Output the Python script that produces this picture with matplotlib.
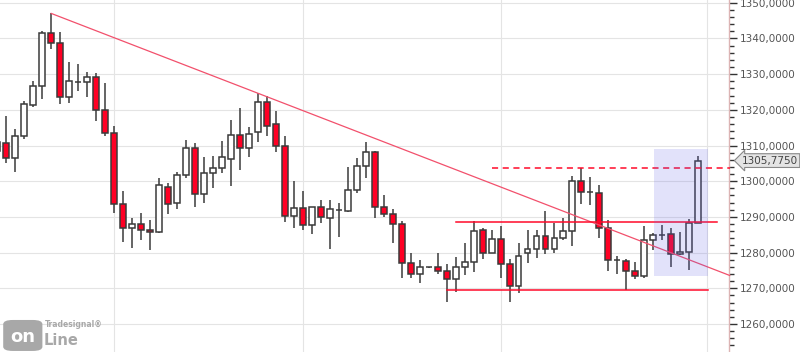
#%% Imports
import numpy as np
import matplotlib
matplotlib.use('Agg')
import matplotlib.pyplot as plt
from matplotlib.patches import Rectangle, FancyBboxPatch
from matplotlib.ticker import MultipleLocator, FuncFormatter

#%% Daily OHLC data, first bar is only partly visible
bar_idx = np.arange(-1, 78)
opens  = [1308.4, 1310.8, 1306.4, 1312.6, 1321.4, 1326.6, 1341.4, 1338.6, 1323.5, 1327.9,
          1327.7, 1329.1, 1319.9, 1313.4, 1293.5, 1286.8, 1287.9, 1286.2, 1285.7, 1298.3,
          1293.8, 1301.7, 1309.2, 1296.3, 1302.2, 1303.6, 1306.1, 1312.9, 1309.4, 1313.7,
          1322.1, 1315.9, 1309.8, 1290.3, 1292.4, 1287.6, 1292.7, 1289.6, 1292.0, 1291.7,
          1297.4, 1304.2, 1308.1, 1292.7, 1290.7, 1287.9, 1277.0, 1273.9, 1275.9, 1275.9,
          1274.8, 1272.5, 1275.9, 1277.3, 1286.2, 1279.8, 1283.7, 1276.7, 1270.6, 1279.8,
          1280.9, 1284.6, 1280.9, 1284.0, 1286.0, 1300.0, 1297.0, 1296.6, 1286.8, 1277.9,
          1277.7, 1274.8, 1273.4, 1283.5, 1284.9, 1285.1, 1279.5, 1280.1, 1288.2]
highs  = [1312.0, 1318.3, 1314.5, 1322.4, 1328.1, 1342.0, 1347.0, 1341.7, 1333.4, 1332.8,
          1330.6, 1330.2, 1327.5, 1315.5, 1297.3, 1289.6, 1291.0, 1289.1, 1300.8, 1299.4,
          1302.5, 1311.5, 1310.6, 1306.7, 1307.1, 1311.3, 1317.1, 1320.4, 1315.1, 1324.6,
          1323.9, 1319.7, 1312.7, 1300.1, 1297.3, 1292.7, 1294.7, 1294.7, 1294.0, 1303.9,
          1306.4, 1310.9, 1308.5, 1296.1, 1292.1, 1288.9, 1280.0, 1277.9, 1276.1, 1280.0,
          1276.8, 1278.9, 1282.7, 1288.9, 1286.8, 1286.3, 1287.5, 1278.1, 1282.7, 1286.2,
          1286.2, 1291.7, 1288.4, 1289.6, 1301.5, 1303.7, 1301.2, 1298.9, 1289.1, 1279.0,
          1278.3, 1277.5, 1287.5, 1285.6, 1287.7, 1287.0, 1285.8, 1289.3, 1307.1]
lows   = [1307.0, 1305.2, 1302.7, 1311.7, 1320.9, 1322.9, 1337.1, 1321.5, 1321.8, 1325.4,
          1323.7, 1317.0, 1312.8, 1291.2, 1283.1, 1281.4, 1283.5, 1280.7, 1285.4, 1290.7,
          1292.1, 1300.8, 1292.9, 1294.0, 1298.2, 1302.4, 1298.7, 1303.1, 1306.9, 1311.0,
          1312.7, 1308.3, 1288.7, 1287.0, 1286.3, 1285.3, 1288.4, 1281.1, 1284.5, 1291.5,
          1296.8, 1301.0, 1289.8, 1290.1, 1282.6, 1273.0, 1273.0, 1271.4, 1275.7, 1274.0,
          1266.2, 1269.0, 1273.6, 1274.6, 1278.1, 1279.8, 1273.0, 1266.2, 1268.6, 1277.2,
          1278.4, 1279.5, 1279.8, 1283.5, 1281.9, 1293.7, 1293.2, 1284.2, 1274.8, 1273.9,
          1269.5, 1272.5, 1272.8, 1280.7, 1283.5, 1276.1, 1279.3, 1275.1, 1288.2]
closes = [1310.9, 1306.4, 1312.7, 1321.5, 1326.6, 1341.4, 1338.6, 1323.5, 1328.0, 1327.7,
          1329.1, 1319.9, 1313.4, 1293.5, 1286.8, 1287.9, 1286.2, 1285.7, 1298.9, 1293.5,
          1301.7, 1309.2, 1296.3, 1302.2, 1303.6, 1306.7, 1312.9, 1309.4, 1313.1, 1322.1,
          1315.5, 1309.8, 1290.3, 1292.4, 1287.6, 1292.7, 1289.9, 1292.1, 1292.0, 1297.5,
          1304.3, 1308.1, 1292.7, 1290.7, 1287.9, 1277.0, 1273.9, 1275.9, 1275.9, 1274.8,
          1272.5, 1275.9, 1277.3, 1286.0, 1279.8, 1283.7, 1276.7, 1270.6, 1279.0, 1280.9,
          1284.6, 1280.9, 1284.0, 1286.0, 1300.0, 1297.0, 1297.0, 1286.8, 1277.9, 1277.9,
          1274.8, 1273.4, 1283.5, 1284.8, 1284.9, 1279.5, 1280.1, 1288.2, 1305.775]

last_price = closes[-1]
month_starts = [12, 33, 55, 78]   # vertical grid lines

# drawn annotations (bar index, price)
trend_start = (5, 1347.0)
trend_end   = (80.5, 1273.6)
resistance  = 1288.5
res_span    = (50.0, 79.05)
support     = 1269.4
sup_span    = (49.0, 78.05)
breakout    = 1303.6
brk_span    = (54.05, 80.5)
box_x       = (72.07, 78.05)
box_y       = (1273.4, 1308.9)

#%% Plot
RED = '#ff0024'
EDGE = '#3a3a3a'

fig = plt.figure(figsize=(8, 3.52), dpi=100)
ax = fig.add_axes([0, 0, 729/800, 1])

ax.set_xlim(-0.70, 80.42)
ax.set_ylim(1252.16, 1350.76)

# grid
for v in np.arange(1260, 1351, 10):
    ax.axhline(v, color='#e4e4e4', lw=0.8, zorder=0)
for m in month_starts:
    ax.axvline(m, color='#e4e4e4', lw=0.8, zorder=0)

# candles
w = 0.66
for x, o, h, l, c in zip(bar_idx, opens, highs, lows, closes):
    ax.plot([x, x], [l, h], color=EDGE, lw=1.1, zorder=2, solid_capstyle='butt')
    fc = 'white' if c >= o else RED
    ax.add_patch(Rectangle((x - w/2, min(o, c)), w, abs(c - o),
                           facecolor=fc, edgecolor=EDGE, lw=1.1, zorder=3))

# lines
ax.plot([trend_start[0], trend_end[0]], [trend_start[1], trend_end[1]],
        color='#f2506c', lw=0.9, zorder=4, clip_on=False)
ax.plot(res_span, [resistance, resistance], color='#ff0a2a', lw=1.1, zorder=4)
ax.plot(sup_span, [support, support], color='#ff0a2a', lw=1.1, zorder=4)
ax.plot(brk_span, [breakout, breakout], color='#ff0a2a', lw=1.1, ls=(0, (4, 3)), zorder=4,
        clip_on=False)

# highlighted box
ax.add_patch(Rectangle((box_x[0], box_y[0]), box_x[1] - box_x[0], box_y[1] - box_y[0],
                       facecolor='#6060e8', alpha=0.18, lw=0, zorder=5))

# right axis
ax.yaxis.tick_right()
ax.yaxis.set_major_locator(MultipleLocator(10))
ax.yaxis.set_minor_locator(MultipleLocator(2))
ax.yaxis.set_major_formatter(FuncFormatter(lambda v, p: ('%.4f' % v).replace('.', ',')))
ax.tick_params(axis='y', which='major', length=6, width=1, color='#333333',
               labelsize=7.5, labelcolor='#555555', pad=2)
ax.tick_params(axis='y', which='minor', length=3.5, width=1, color='#333333')
ax.set_xticks([])
for s in ['left', 'top', 'bottom']:
    ax.spines[s].set_visible(False)
ax.spines['right'].set_color('#dcb4b4')
ax.spines['right'].set_linewidth(1)

# last price label
ax.text(1.0175, last_price, ('%.4f' % last_price).replace('.', ','),
        transform=ax.get_yaxis_transform(), fontsize=7.5, color='#444444',
        va='center', ha='left', clip_on=False,
        bbox=dict(boxstyle='larrow,pad=0.18', fc='#e4e4e4', ec='#888888', lw=0.8))

# watermark logo
fig.patches.append(FancyBboxPatch((0.004, 0.003), 0.049, 0.088,
                                  boxstyle='round,pad=0,rounding_size=0.012',
                                  transform=fig.transFigure, fc='#a8a8a8', ec='none'))
fig.text(0.028, 0.042, 'on', color='white', fontsize=13, fontweight='bold',
         ha='center', va='center')
fig.text(0.054, 0.034, 'Line', color='#a8a8a8', fontsize=10.5, fontweight='bold',
         ha='left', va='center')
fig.text(0.056, 0.078, 'Tradesignal\u00ae', color='#a8a8a8', fontsize=5.5,
         fontweight='bold', ha='left', va='center')

fig.savefig('out.png', dpi=100)
